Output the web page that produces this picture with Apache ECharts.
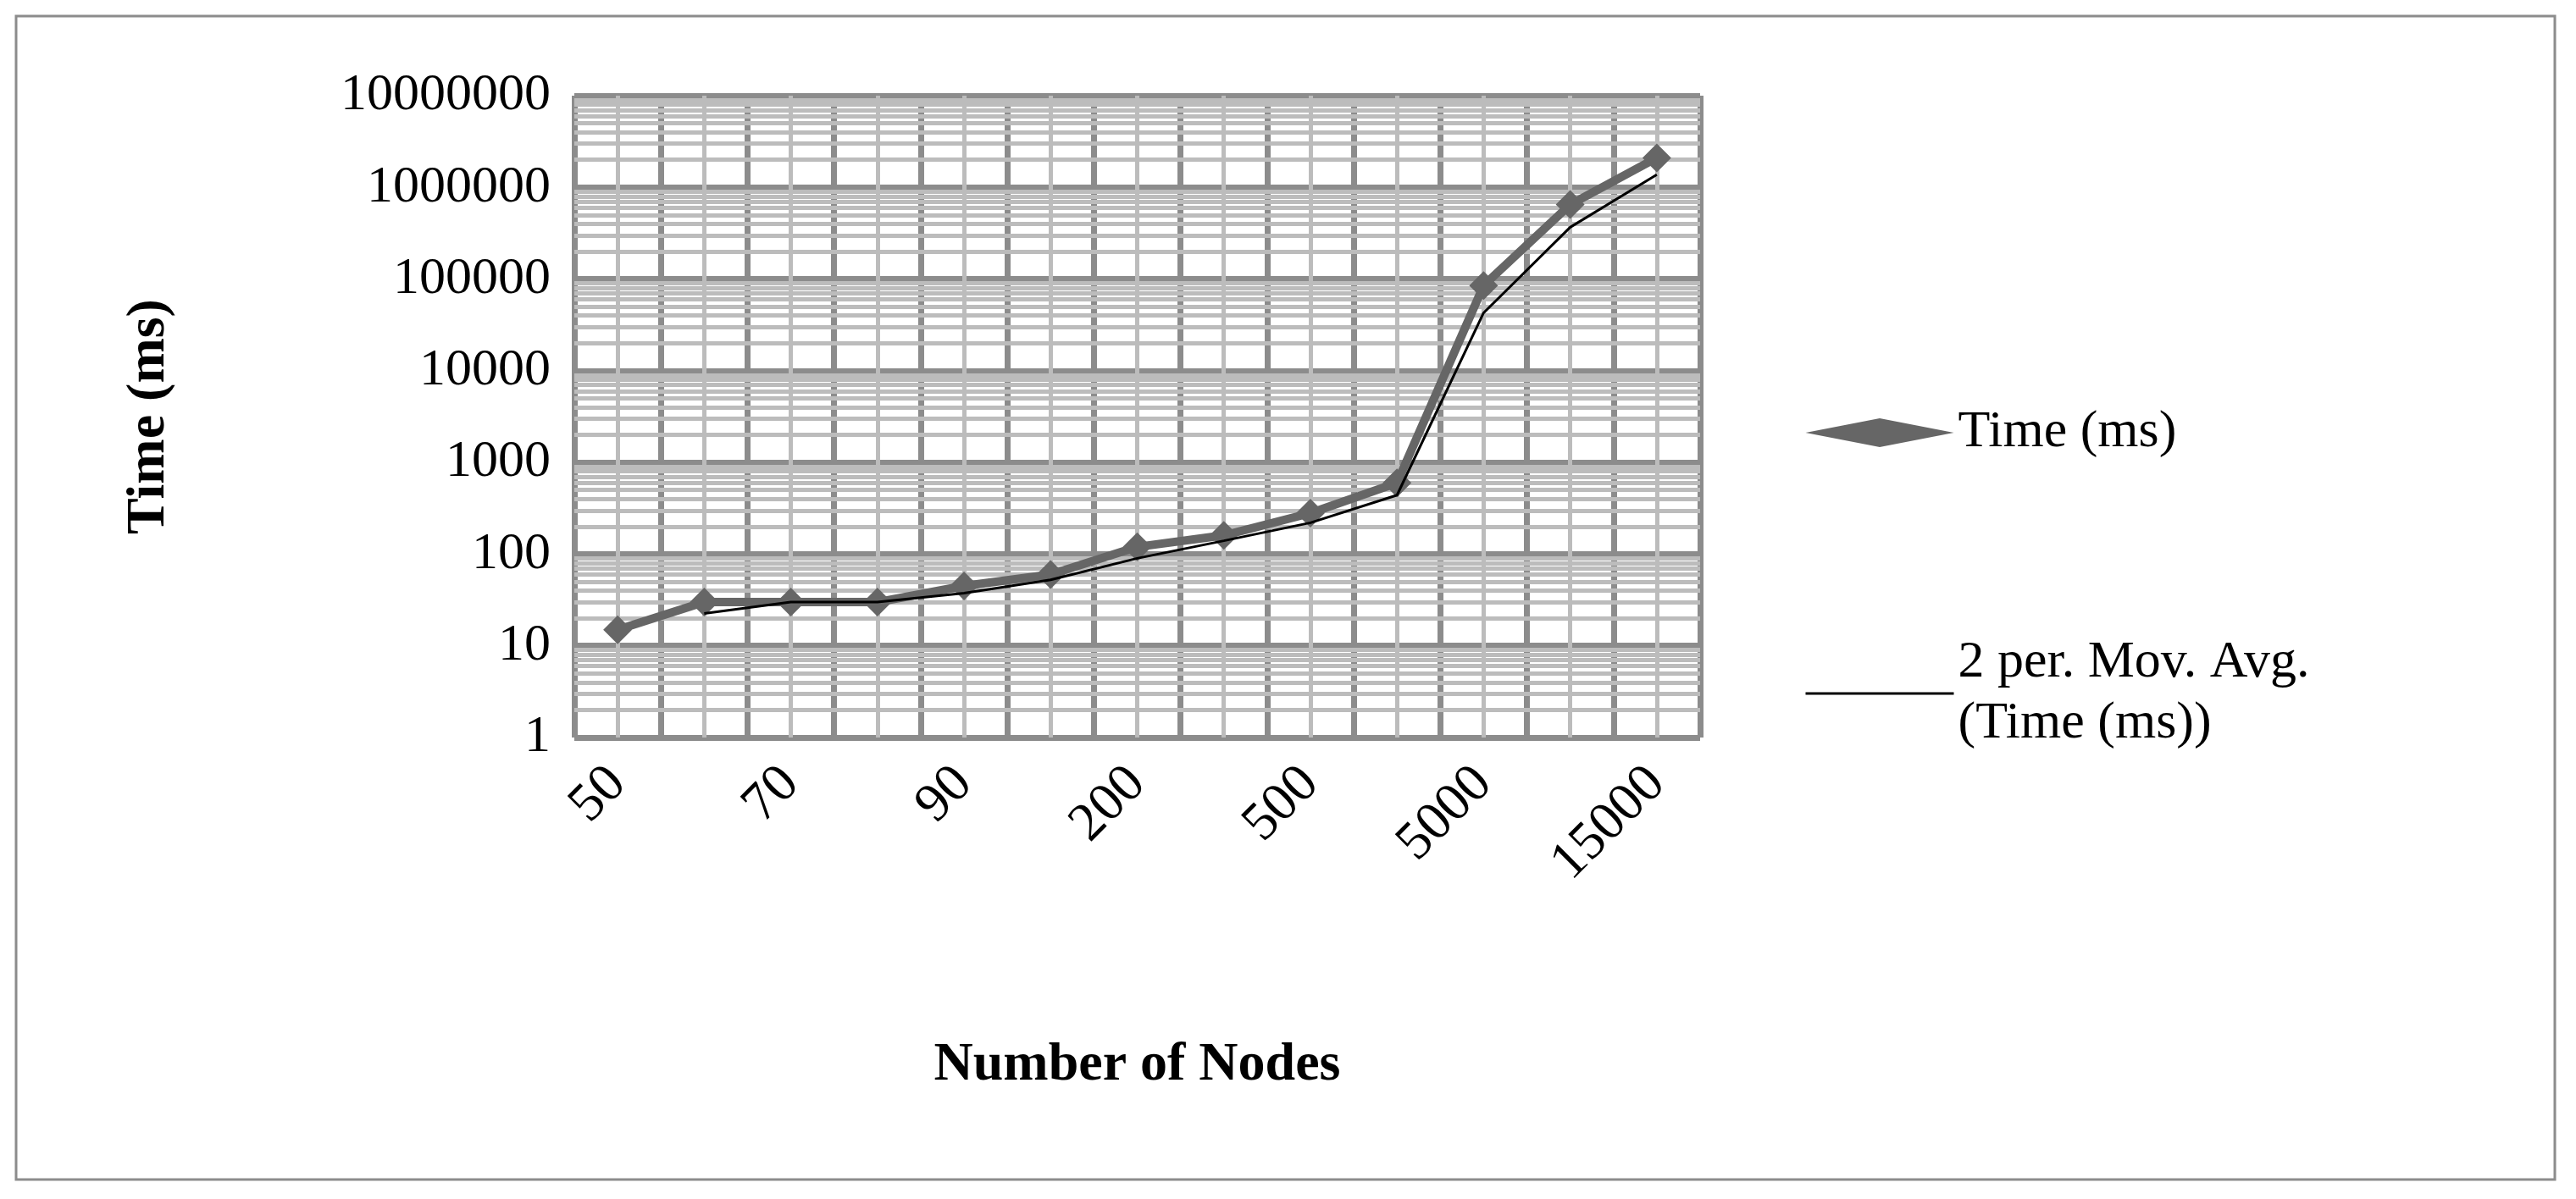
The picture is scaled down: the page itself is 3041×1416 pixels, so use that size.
<!DOCTYPE html>
<html><head><meta charset="utf-8">
<script src="https://cdn.jsdelivr.net/npm/echarts@6/dist/echarts.min.js"></script>
<style>html,body{margin:0;background:#fff}#c{width:3041px;height:1416px}</style>
</head><body><div id="c"></div>
<script>
var categories = ['50','60','70','80','90','100','200','300','500','1000','5000','10000','15000'];
var timeMs = [15, 30, 30, 30, 45, 60, 120, 160, 280, 600, 85000, 650000, 2100000];
var movAvg = [null, 22.5, 30, 30, 37.5, 52.5, 90, 140, 220, 440, 42800, 367500, 1375000];
var halfCats = [];
for (var i = 0; i < categories.length * 2; i++) halfCats.push(String(i));
var minorVals = [];
for (var d = 1; d < 1e7; d *= 10) for (var k = 2; k <= 9; k++) minorVals.push({yAxis: d * k});
var font = 'Liberation Serif';
var chart = echarts.init(document.getElementById('c'));
chart.setOption({
  animation: false,
  textStyle: {fontFamily: font},
  graphic: [{type: 'rect', shape: {x: 19, y: 19, width: 2997, height: 1374},
    style: {fill: 'none', stroke: '#8c8c8c', lineWidth: 3}, z: -10}],
  grid: {left: 678, top: 113, width: 1329, height: 758},
  xAxis: [{
    type: 'category', data: categories, boundaryGap: true,
    name: 'Number of Nodes', nameLocation: 'middle', nameGap: 355,
    nameTextStyle: {fontSize: 64, fontWeight: 'bold', color: '#000', fontFamily: font},
    axisLine: {show: false}, axisTick: {show: false},
    axisLabel: {interval: 1, rotate: 45, fontSize: 64, color: '#000', fontFamily: font, margin: 45},
    splitLine: {show: true, interval: 0, lineStyle: {color: '#8c8c8c', width: 7}}, z: 3
  }, {
    type: 'category', data: halfCats, boundaryGap: true, show: true,
    axisLine: {show: false}, axisTick: {show: false}, axisLabel: {show: false},
    splitLine: {show: true, interval: 0, lineStyle: {color: '#bcbcbc', width: 5}}
  }],
  yAxis: {
    type: 'log', min: 1, max: 10000000, logBase: 10,
    name: 'Time (ms)', nameLocation: 'middle', nameGap: 470,
    nameTextStyle: {fontSize: 64, fontWeight: 'bold', color: '#000', fontFamily: font},
    axisLine: {show: false}, axisTick: {show: false},
    axisLabel: {fontSize: 62, color: '#000', fontFamily: font, margin: 28,
      formatter: function (v) { return String(Math.round(v)); }},
    splitLine: {show: true, lineStyle: {color: '#8c8c8c', width: 7}}
  },
  legend: {
    orient: 'vertical', left: 2125, top: 470, itemGap: 200,
    itemWidth: 175, itemHeight: 34,
    textStyle: {fontSize: 62, color: '#000', fontFamily: font, lineHeight: 72},
    data: [
      {name: 'Time (ms)', icon: 'diamond', itemStyle: {color: '#666666'}, lineStyle: {color: '#666666', width: 10}},
      {name: '2 per. Mov. Avg.\n(Time (ms))', itemStyle: {opacity: 0}, lineStyle: {color: '#000', width: 3}}
    ]
  },
  series: [{
    type: 'line', name: 'grid', data: [], silent: true,
    markLine: {silent: true, symbol: 'none', label: {show: false},
      lineStyle: {color: '#bcbcbc', width: 5, type: 'solid'}, data: minorVals}
  }, {
    type: 'line', name: 'Time (ms)', data: timeMs, z: 5,
    symbol: 'diamond', symbolSize: 34,
    lineStyle: {color: '#666666', width: 10}, itemStyle: {color: '#666666'}
  }, {
    type: 'line', name: '2 per. Mov. Avg.\n(Time (ms))', data: movAvg, z: 6,
    symbol: 'none', lineStyle: {color: '#000', width: 3}, itemStyle: {color: '#000'}
  }]
});
</script></body></html>
